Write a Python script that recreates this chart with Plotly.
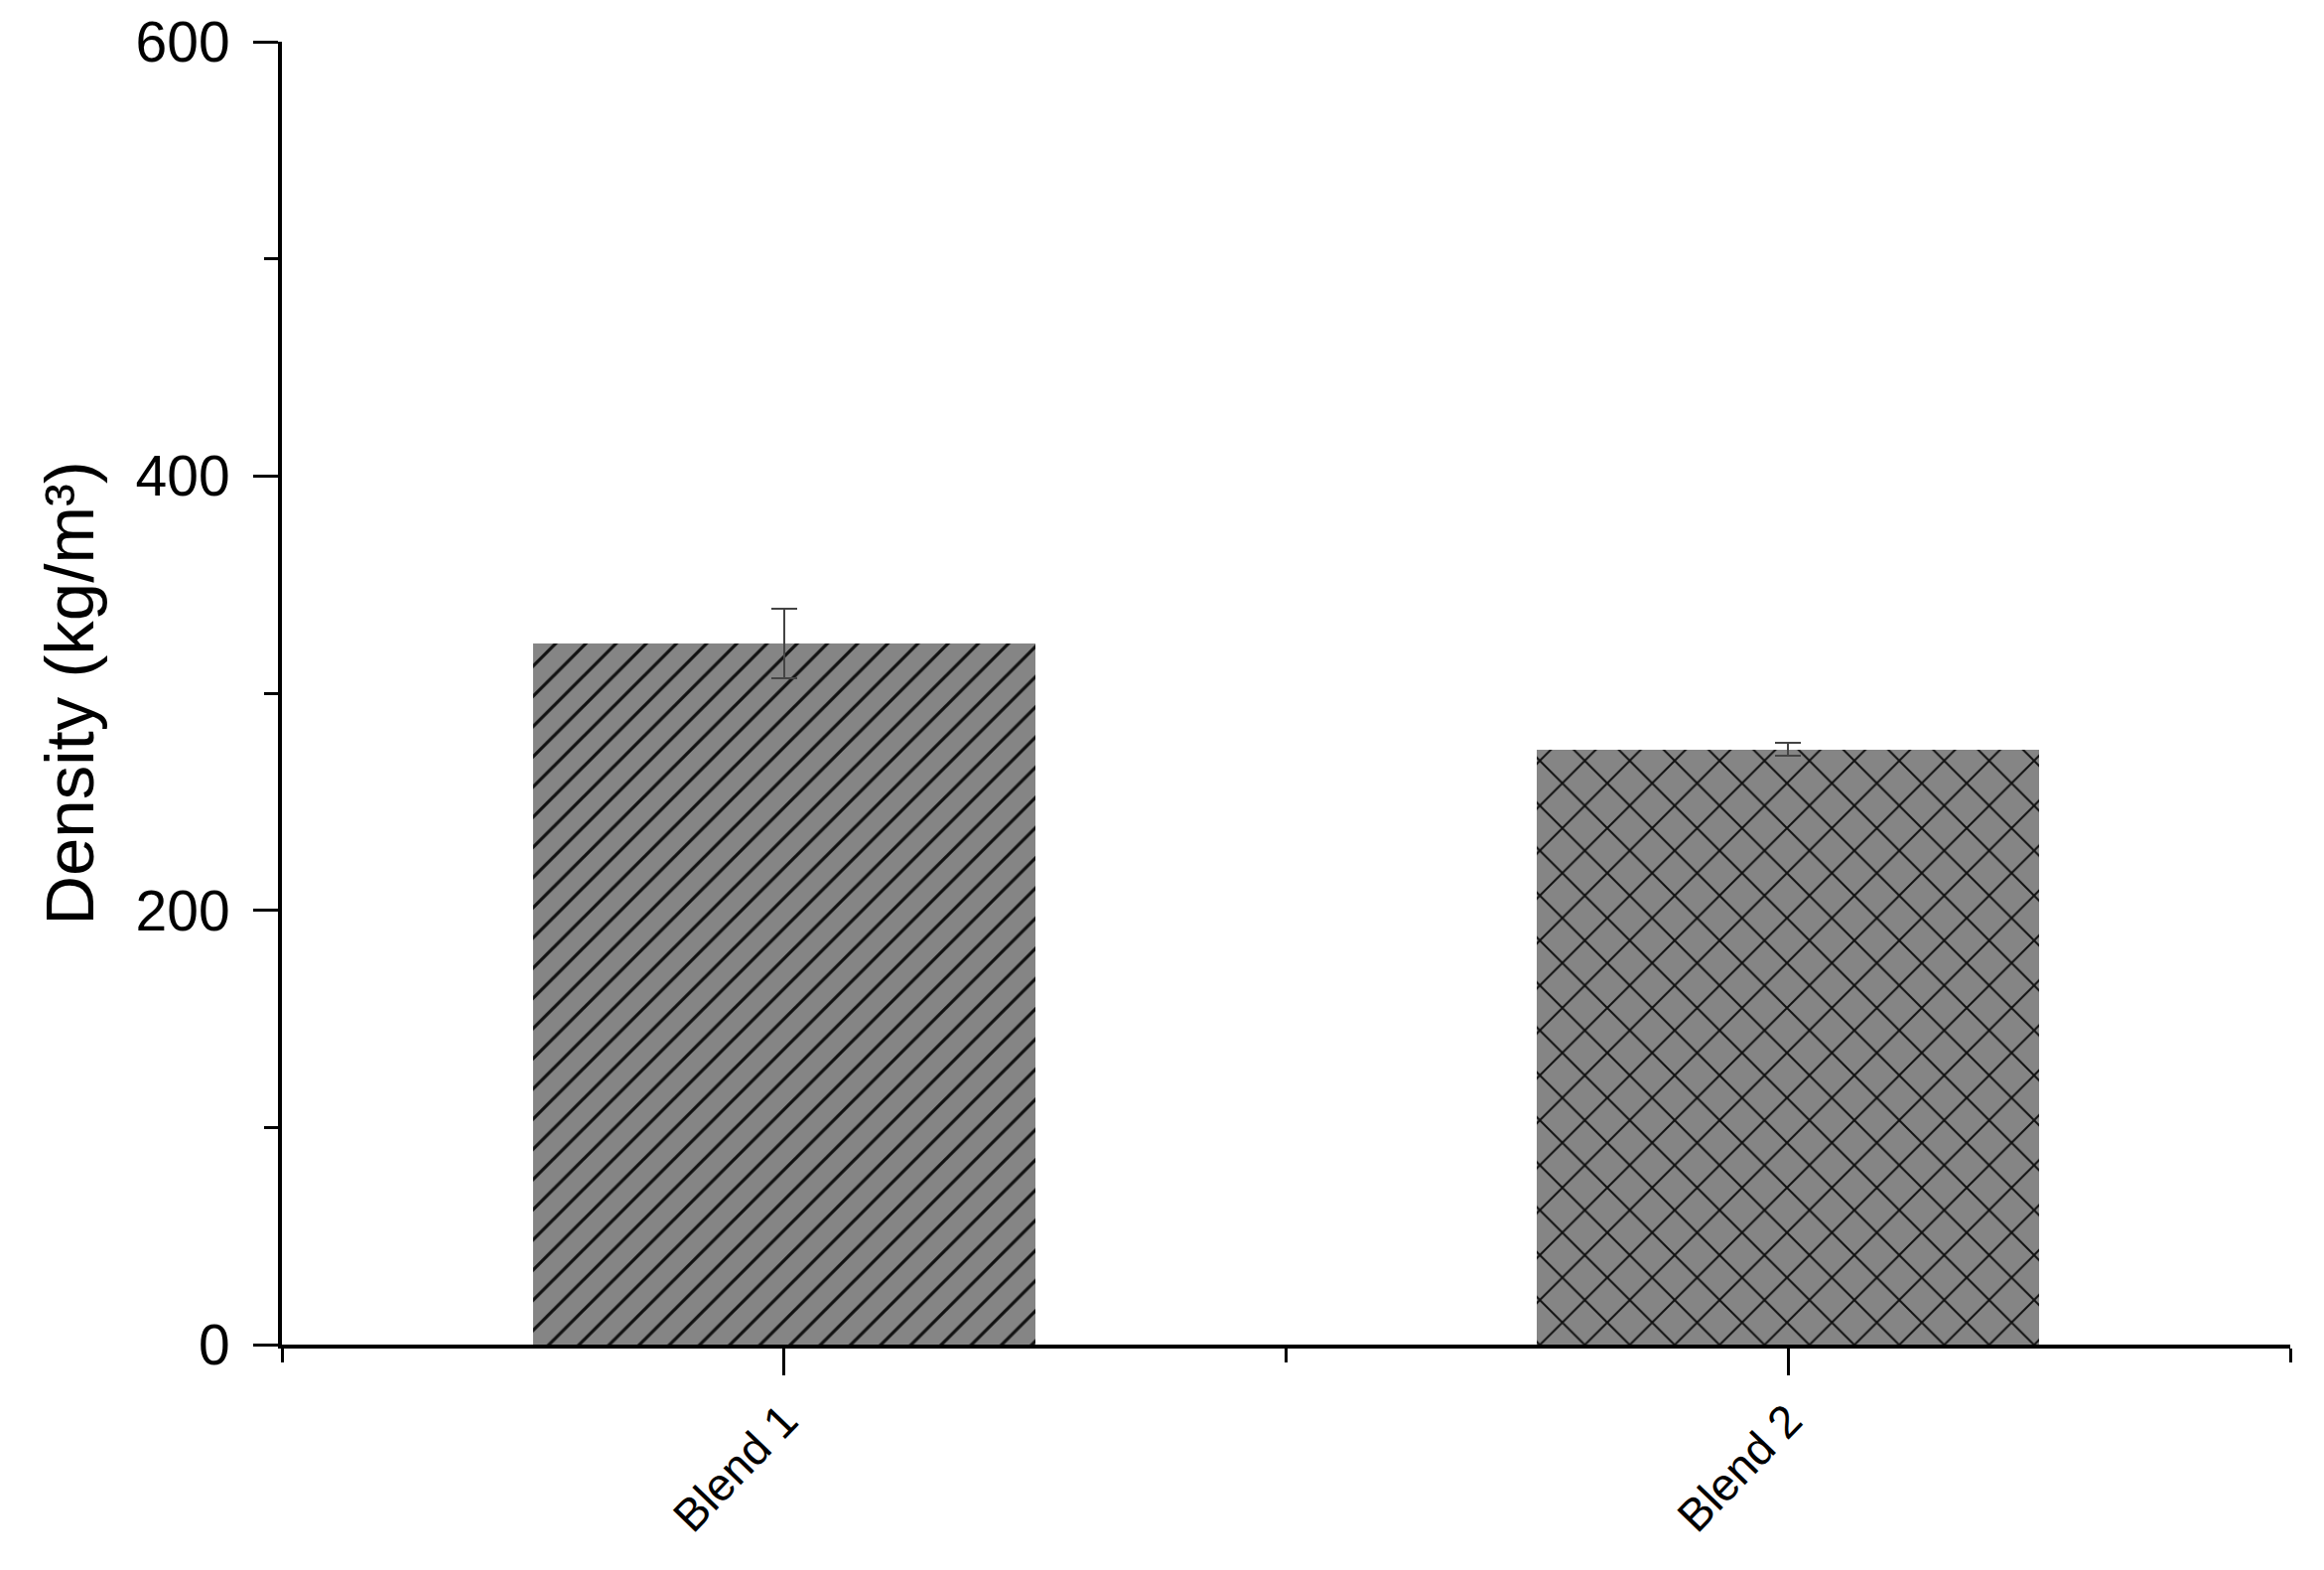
import plotly.graph_objects as go

categories = ["Blend 1", "Blend 2"]
density = [323, 274]
density_err = [16, 3]
patterns = ["/", "x"]
pattern_sizes = [21.5, 32]
pattern_solidity = [0.15, 0.12]
y_ticks = [0, 200, 400, 600]

x_pos = list(range(1, len(categories) + 1))

fig = go.Figure()
for i, cat in enumerate(categories):
    fig.add_trace(go.Bar(
        x=[x_pos[i]], y=[density[i]], width=0.5,
        marker=dict(
            color="#858585",
            line=dict(width=0),
            pattern=dict(shape=patterns[i], size=pattern_sizes[i], solidity=pattern_solidity[i],
                         fgcolor="#111111", fgopacity=1, fillmode="overlay"),
        ),
        error_y=dict(type="data", array=[density_err[i]], visible=True,
                     color="#444444", thickness=2, width=13),
        showlegend=False, name=cat,
    ))

font_family = "Liberation Sans, Arial, sans-serif"

fig.update_layout(
    width=2325, height=1565,
    margin=dict(l=276, r=26, t=34, b=219),
    paper_bgcolor="white", plot_bgcolor="white",
    font=dict(family=font_family, color="black"),
    bargap=0,
)
fig.update_xaxes(
    automargin=False,
    range=[0.5, 2.5], tickmode="array", tickvals=x_pos, ticktext=categories,
    tickangle=-46, tickfont=dict(size=46, family=font_family, color="black"),
    showline=True, linecolor="black", linewidth=4,
    ticks="outside", ticklen=27, tickwidth=3, tickcolor="black",
    minor=dict(tickmode="array", tickvals=[0.5, 1.5, 2.5], ticks="outside",
               ticklen=14, tickwidth=3, tickcolor="black"),
    showgrid=False, zeroline=False, fixedrange=True,
)
fig.update_yaxes(
    automargin=False,
    range=[0, 600], tickmode="array", tickvals=y_ticks,
    tickfont=dict(size=57, family=font_family, color="black"),
    showline=True, linecolor="black", linewidth=4,
    ticks="outside", ticklen=25, tickwidth=3, tickcolor="black",
    ticklabelstandoff=12,
    minor=dict(tickmode="array", tickvals=[100, 300, 500], ticks="outside",
               ticklen=14, tickwidth=3, tickcolor="black"),
    showgrid=False, zeroline=False,
    title=dict(text="Density (kg/m³)", font=dict(size=69, family=font_family, color="black"),
               standoff=20),
)

fig.write_html("out.html")
